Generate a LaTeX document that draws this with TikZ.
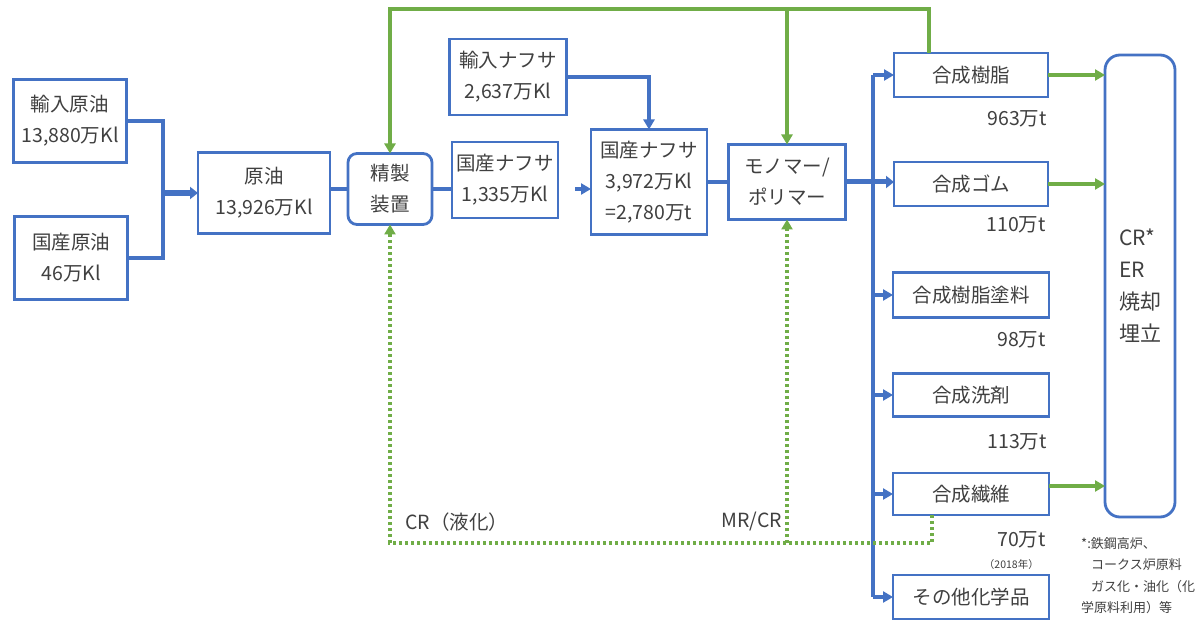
\documentclass[tikz,border=0pt]{standalone}
\usepackage{fontspec}
\setmainfont{Noto Sans CJK JP}
\usetikzlibrary{arrows.meta}
\definecolor{bl}{HTML}{4472C4}
\definecolor{gr}{HTML}{70AD47}
\definecolor{tx}{HTML}{404040}
\begin{document}
\begin{tikzpicture}[x=1pt,y=-1pt,
  box/.style={draw=bl,line width=2.8pt,fill=white,text=tx,align=center,inner sep=0pt,outer sep=0pt,font=\fontsize{19.5}{31}\selectfont},
  rbox/.style={box,rounded corners=9pt},
  lbl/.style={text=tx,inner sep=0pt,font=\fontsize{19.5}{23}\selectfont},
  bline/.style={draw=bl,line width=3.3pt},
  barrow/.style={bline,-{Triangle[length=10pt,width=11pt]}},
  gline/.style={draw=gr,line width=3.3pt},
  garrow/.style={gline,-{Triangle[length=10pt,width=11pt]}},
  gdot/.style={draw=gr,line width=3.3pt,dash pattern=on 3pt off 3pt,-{Triangle[length=10pt,width=11pt]}}
]
\useasboundingbox (0,0) rectangle (1200,620);
\fill[white] (0,0) rectangle (1200,620);

% nodes
\node[box,minimum width=113pt,minimum height=83pt] (in1) at (70,121) {輸入原油\\13,880万Kl};
\node[box,minimum width=113pt,minimum height=83pt] (dom1) at (71,258) {国産原油\\46万Kl};
\node[box,minimum width=132pt,minimum height=81pt] (crude) at (264,193) {原油\\13,926万Kl};
\node[rbox,minimum width=84pt,minimum height=71pt] (refine) at (390,189) {精製\\装置};
\node[box,minimum width=106pt,minimum height=76pt] (nap1) at (505,180) {国産ナフサ\\1,335万Kl};
\node[box,minimum width=117pt,minimum height=76pt] (impn) at (508,77) {輸入ナフサ\\2,637万Kl};
\node[box,minimum width=116pt,minimum height=105pt] (nap2) at (649,182) {国産ナフサ\\3,972万Kl\\=2,780万t};
\node[box,minimum width=117pt,minimum height=75pt] (mono) at (787,182) {モノマー/\\ポリマー};
\node[box,minimum width=154pt,minimum height=44pt] (resin) at (971,75) {合成樹脂};
\node[box,minimum width=154pt,minimum height=44pt] (gomu) at (971,184) {合成ゴム};
\node[box,minimum width=156pt,minimum height=45pt] (paint) at (971,295) {合成樹脂塗料};
\node[box,minimum width=156pt,minimum height=43pt] (deter) at (971,395) {合成洗剤};
\node[box,minimum width=156pt,minimum height=42pt] (fiber) at (971,494) {合成繊維};
\node[box,minimum width=156pt,minimum height=44pt] (other) at (971,597) {その他化学品};
\node[rbox,rounded corners=15pt,minimum width=70pt,minimum height=462pt,align=left,font=\fontsize{21}{32}\selectfont] (cr) at (1140,286) {CR*\\ER\\焼却\\埋立};

% labels
\node[lbl,anchor=east] (l1) at (1047,119) {963万t};
\node[lbl,anchor=east] (l2) at (1046,225) {110万t};
\node[lbl,anchor=east] (l3) at (1046,340) {98万t};
\node[lbl,anchor=east] (l4) at (1047,442) {113万t};
\node[lbl,anchor=east] (l5) at (1046,540) {70万t};
\node[lbl,anchor=east,font=\fontsize{10.5}{13}\selectfont] (yr) at (1039,565) {（2018年）};
\node[lbl,anchor=west] (crl) at (405,522) {CR（液化）};
\node[lbl,anchor=east] (mrl) at (782,522) {MR/CR};
\node[lbl,anchor=north west,align=left,font=\fontsize{13}{21.5}\selectfont] (note) at (1081,537) {*:鉄鋼高炉、\\\hspace{10pt}コークス炉原料\\\hspace{10pt}ガス化・油化（化\\学原料利用）等};

% blue connectors
\coordinate (j1) at (163,193);
\draw[bline] (in1.east) -| (j1);
\draw[bline] (dom1.east) -| (j1);
\draw[bl,line width=6pt,-{Triangle[length=8pt,width=12pt]}] (j1) -- (crude.west);
\draw[bline] (refine.west -| crude.east) -- (refine.west);
\draw[bline] (refine.east) -- (refine.east -| nap1.west);
\draw[barrow,shorten <=17pt] (refine.east -| nap1.east) -- (refine.east -| nap2.west);
\draw[barrow] (impn.east) -| (nap2.north);
\draw[bline] (mono.west -| nap2.east) -- (mono.west);

\coordinate (bt) at (873,75);
\coordinate (bb) at (873,597);
\draw[bline] (bt) -- (bb);
\draw[bl,line width=5pt,-{Triangle[length=8pt,width=12pt]}] (mono.east) -- (mono.east -| gomu.west);
\draw[barrow] (bt) -- (resin.west);
\draw[barrow] (paint.west -| bt) -- (paint.west);
\draw[barrow] (deter.west -| bt) -- (deter.west);
\draw[barrow] (fiber.west -| bt) -- (fiber.west);
\draw[barrow] (bb) -- (other.west);

% green solid
\coordinate (gt) at (929,9);
\draw[garrow] (resin.north -| gt) -- (gt) -- (gt -| refine.north) -- (refine.north);
\draw[garrow] (gt -| mono.north) -- (mono.north);
\draw[garrow] (resin.east) -- (resin.east -| cr.west);
\draw[garrow] (gomu.east) -- (gomu.east -| cr.west);
\draw[garrow] ([yshift=8pt]fiber.east) -- ([yshift=8pt]fiber.east -| cr.west);

% green dotted
\coordinate (db) at (932,543);
\draw[gdot] (fiber.south -| db) -- (db) -- (db -| refine.south) -- (refine.south);
\draw[gdot] (db -| mono.south) -- (mono.south);
\end{tikzpicture}
\end{document}
